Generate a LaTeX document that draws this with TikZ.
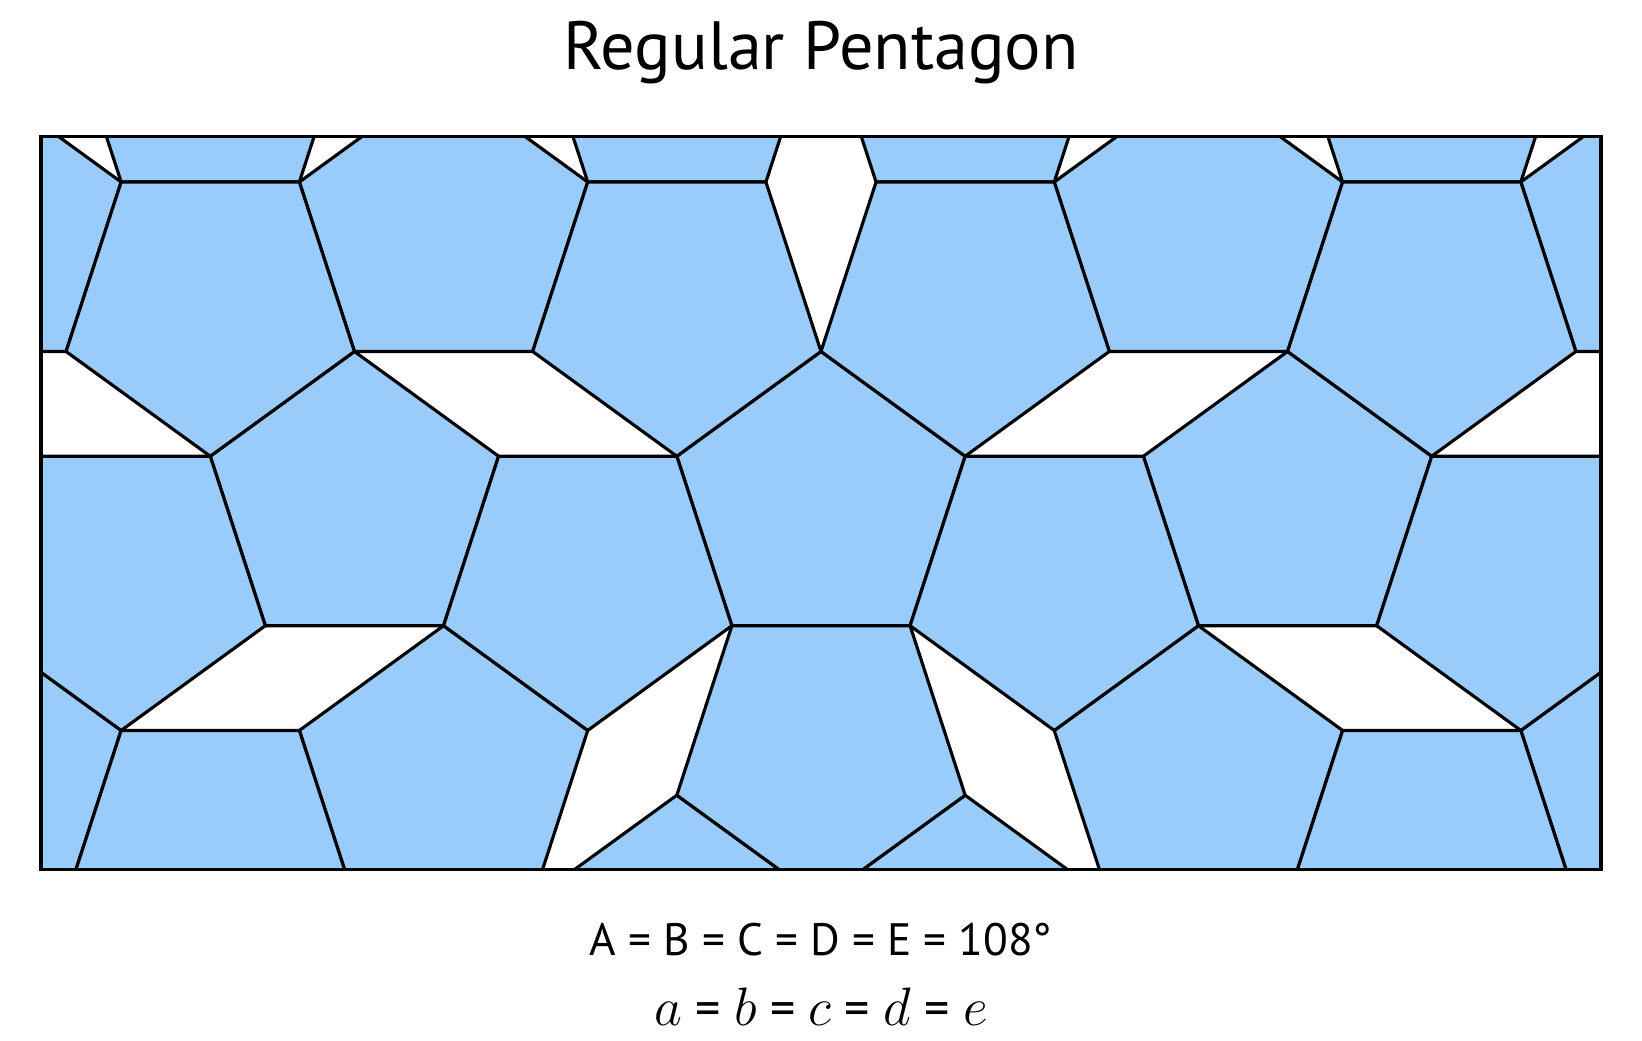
\documentclass[tikz,border=0pt]{standalone}
\usepackage{fontspec}
\setsansfont{PT Sans}
\usetikzlibrary{positioning}
\definecolor{tileblue}{RGB}{153,204,250}
\tikzset{
	pentagon/.style = {
		fill = tileblue,
		draw = black,
		line width = 1pt
	}
}

\begin{document}
\begin{tikzpicture}[
x = 2cm, y = 2cm,
every node/.style = {
	font = \sffamily
},
heading/.style = {
	font = \sffamily\fontsize{21.8}{26}\selectfont
},
angle text/.style = {
	font = \sffamily\fontsize{14.5}{17}\selectfont
},
side text/.style = {
	font = \sffamily\fontsize{16}{19}\selectfont
},
border line/.style = {
	draw,
	line width = 1.1pt
}
]
\def\R{0.8506508}

\useasboundingbox (-4.607,-3.013) rectangle (4.607,2.823);

\coordinate (sw) at (-4.378,-2.056);
\coordinate (ne) at (4.378,2.056);

\fill [white] (sw) rectangle (ne);

\begin{scope}
\clip (sw) rectangle (ne);
% point up
\foreach \x/\y in {-3.4271/2.4899, -0.8090/2.4899, 0.8090/2.4899, 3.4271/2.4899,
	-4.7361/1.5388, -2.1180/1.5388, 2.1180/1.5388, 4.7361/1.5388,
	-2.6180/0, 0/0, 2.6180/0,
	-4.7361/-1.5388, -2.1180/-1.5388, 2.1180/-1.5388, 4.7361/-1.5388,
	-0.8090/-2.4899, 0.8090/-2.4899}
	\filldraw [pentagon, shift={(\x,\y)}] (90:\R) -- (162:\R) -- (234:\R) -- (306:\R) -- (18:\R) -- cycle;
% point down
\foreach \x/\y in {-3.4271/1.1135, -0.8090/1.1135, 0.8090/1.1135, 3.4271/1.1135,
	-3.9271/-0.4253, -1.3090/-0.4253, 1.3090/-0.4253, 3.9271/-0.4253,
	-3.4271/-1.9642, 0/-1.3764, 3.4271/-1.9642}
	\filldraw [pentagon, shift={(\x,\y)}] (270:\R) -- (342:\R) -- (54:\R) -- (126:\R) -- (198:\R) -- cycle;
\end{scope}

\draw [border line] (sw) rectangle (ne);

\node [heading, anchor = base] (title) at (0,2.435) {Regular Pentagon};
\node [angle text, anchor = base] (angles) at (0,-2.536) {A = B = C = D = E = 108°};
\node [side text, below = 7.86mm of angles.base, anchor = base] (sides) {$a$ = $b$ = $c$ = $d$ = $e$};

\end{tikzpicture}
\end{document}
